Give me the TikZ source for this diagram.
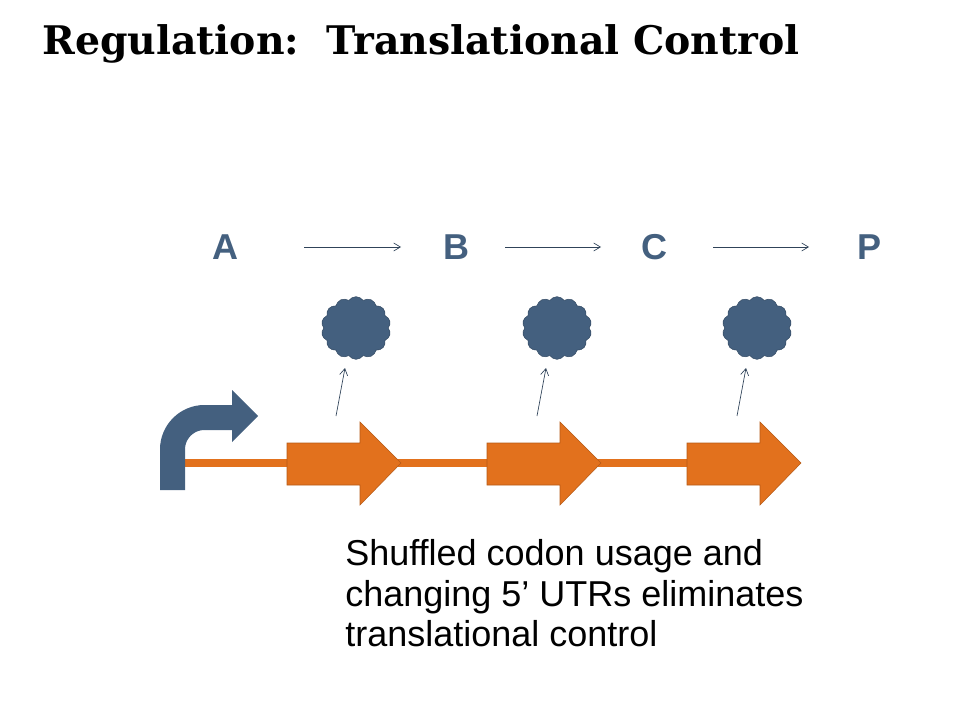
\documentclass[tikz,border=0pt]{standalone}
\usepackage{fontspec}
\setmainfont{Liberation Sans}
\newfontfamily\titlefont{DejaVu Serif}
\usetikzlibrary{shapes.symbols,arrows.meta}
\definecolor{slate}{HTML}{44607F}
\definecolor{orng}{HTML}{E2711D}
\begin{document}
\begin{tikzpicture}[x=0.75pt,y=-0.75pt,
  letter/.style={text=slate,font=\fontsize{27}{30}\selectfont\bfseries,inner sep=0},
  thin/.style={-{Straight Barb[length=5pt,width=6pt]},draw=slate!70!black,line width=0.5pt},
  blob/.style={cloud,cloud puffs=14,cloud puff arc=110,aspect=1.1,fill=slate,draw=slate!80!black,minimum width=52pt,minimum height=47pt,inner sep=0},
  gene/.style={fill=orng,draw=orng!80!black,line width=0.4pt}]
\useasboundingbox (0,0) rectangle (960,720);
\node[anchor=west,inner sep=0] (title) at (42,44) {\resizebox{568pt}{!}{\titlefont\bfseries Regulation:\ \ Translational Control}};
% letters
\node[letter] (A) at (225,247) {A};
\node[letter] (B) at (456,247) {B};
\node[letter] (C) at (654,247) {C};
\node[letter] (P) at (869,247) {P};
\coordinate (a1) at (304,247); \coordinate (a2) at (401,247);
\coordinate (b1) at (505,247); \coordinate (b2) at (601,247);
\coordinate (c1) at (713,247); \coordinate (c2) at (809,247);
\draw[thin] (a1) -- (a2); \draw[thin] (b1) -- (b2); \draw[thin] (c1) -- (c2);
% clouds
\node[blob] (e1) at (356,328) {};
\node[blob] (e2) at (557,328) {};
\node[blob] (e3) at (757,328) {};
\coordinate (s1) at (336,416); \coordinate (t1) at (345,368);
\coordinate (s2) at (537,416); \coordinate (t2) at (546,368);
\coordinate (s3) at (737,416); \coordinate (t3) at (746,368);
\draw[thin] (s1) -- (t1); \draw[thin] (s2) -- (t2); \draw[thin] (s3) -- (t3);
% DNA line
\coordinate (d0) at (185,463); \coordinate (d1) at (790,463);
\draw[orng,line width=6pt] (d0) -- (d1);
% genes
\foreach \x in {287,487,687}{
  \fill[gene] (\x,443) -- (\x+73,443) -- (\x+73,422) -- (\x+114,463) -- (\x+73,505) -- (\x+73,485) -- (\x,485) -- cycle;
}
% promoter
\draw[slate,line width=18.75pt,rounded corners=24pt] (172.5,490) -- (172.5,417.5) -- (233,417.5);
\fill[slate] (232,390) -- (258,416) -- (232,442) -- cycle;
% text
\node[anchor=north west,align=left,inner sep=0,font=\fontsize{27}{30.5}\selectfont] (txt) at (345,539) {Shuffled codon usage and\\changing 5’ UTRs eliminates\\translational control};
\end{tikzpicture}
\end{document}
